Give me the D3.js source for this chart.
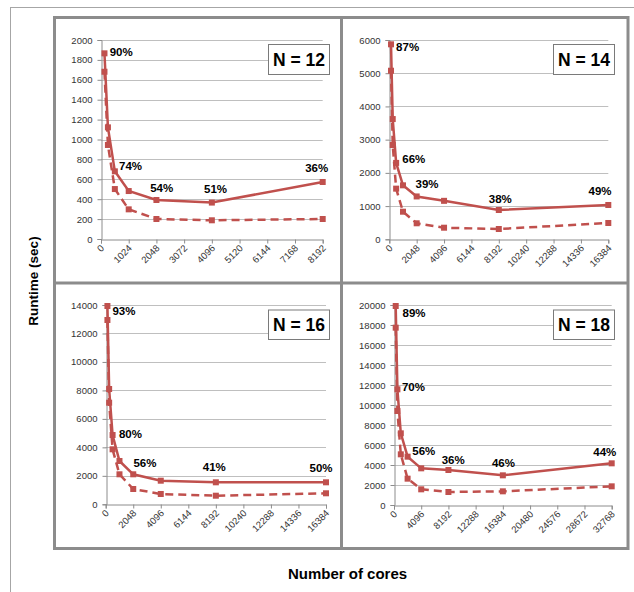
<!DOCTYPE html>
<html>
<head>
<meta charset="utf-8">
<script src="https://cdn.jsdelivr.net/npm/d3@7/dist/d3.min.js"></script>
<style>
  html, body { margin: 0; padding: 0; background: #fff; }
  svg { display: block; }
</style>
</head>
<body>
<svg id="chart" width="634" height="592"></svg>
<script>
// ---------- DATA ----------
const cores12 = [128, 256, 512, 1024, 2048, 4096, 8192];
const solid12 = [1866, 1122, 680, 482, 392, 366, 573];
const dashed12 = [1681, 945, 502, 298, 201, 188, 201];
const labelCores12 = [128, 512, 2048, 4096, 8192];
const labels12 = ["90%", "74%", "54%", "51%", "36%"];
const xTicks12 = [0, 1024, 2048, 3072, 4096, 5120, 6144, 7168, 8192];
const yTicks12 = [0, 200, 400, 600, 800, 1000, 1200, 1400, 1600, 1800, 2000];

const cores14 = [128, 256, 512, 1024, 2048, 4096, 8192, 16384];
const solid14 = [5870, 3620, 2300, 1625, 1290, 1158, 882, 1033];
const dashed14 = [5075, 2839, 1525, 831, 482, 349, 310, 491];
const labelCores14 = [128, 512, 2048, 8192, 16384];
const labels14 = ["87%", "66%", "39%", "38%", "49%"];
const xTicks14 = [0, 2048, 4096, 6144, 8192, 10240, 12288, 14336, 16384];
const yTicks14 = [0, 1000, 2000, 3000, 4000, 5000, 6000];

const cores16 = [128, 256, 512, 1024, 2048, 4096, 8192, 16384];
const solid16 = [13929, 8099, 4868, 3042, 2107, 1658, 1545, 1545];
const dashed16 = [12946, 7137, 3863, 2107, 1075, 724, 604, 773];
const labelCores16 = [128, 512, 2048, 8192, 16384];
const labels16 = ["93%", "80%", "56%", "41%", "50%"];
const xTicks16 = [0, 2048, 4096, 6144, 8192, 10240, 12288, 14336, 16384];
const yTicks16 = [0, 2000, 4000, 6000, 8000, 10000, 12000, 14000];

const cores18 = [256, 512, 1024, 2048, 4096, 8192, 16384, 32768];
const solid18 = [19900, 11567, 7167, 4833, 3667, 3500, 2967, 4167];
const dashed18 = [17733, 9400, 5067, 2633, 1567, 1300, 1367, 1867];
const labelCores18 = [256, 512, 4096, 8192, 16384, 32768];
const labels18 = ["89%", "70%", "56%", "36%", "46%", "44%"];
const xTicks18 = [0, 4096, 8192, 12288, 16384, 20480, 24576, 28672, 32768];
const yTicks18 = [0, 2000, 4000, 6000, 8000, 10000, 12000, 14000, 16000, 18000, 20000];

const panelTitles = ["N = 12", "N = 14", "N = 16", "N = 18"];
const yTitle = "Runtime (sec)";
const xTitle = "Number of cores";

// ---------- LAYOUT (positions / styles) ----------
const RED = "#C0504D";
const layout = [
  { plot: [101, 322.7, 40, 239],   box: [268.5, 44.5, 61, 30],
    offs: [[16.7, -1.6], [15.7, -5.6], [5.3, -11.7], [3.7, -13.7], [-6, -13.7]] },
  { plot: [389.3, 608.3, 40, 239.3], box: [553.5, 44.5, 61, 30],
    offs: [[16.6, 2.4], [17.7, -4], [10.4, -12.4], [1.5, -11], [-8.3, -14.3]] },
  { plot: [105.7, 326, 305, 504.3], box: [268.5, 310, 61, 29.5],
    offs: [[16.5, 4.7], [17.9, -1], [11.7, -11.6], [-1.5, -15.3], [-5, -14.3]] },
  { plot: [394, 611.7, 305, 505],   box: [553.5, 310, 61, 29.5],
    offs: [[18.3, 7], [16, -2], [2.6, -17.3], [4.8, -10], [0.6, -12.6], [-6.9, -11.6]] }
];

const panels = [
  { cores: cores12, solid: solid12, dashed: dashed12, lc: labelCores12, lt: labels12, xt: xTicks12, yt: yTicks12 },
  { cores: cores14, solid: solid14, dashed: dashed14, lc: labelCores14, lt: labels14, xt: xTicks14, yt: yTicks14 },
  { cores: cores16, solid: solid16, dashed: dashed16, lc: labelCores16, lt: labels16, xt: xTicks16, yt: yTicks16 },
  { cores: cores18, solid: solid18, dashed: dashed18, lc: labelCores18, lt: labels18, xt: xTicks18, yt: yTicks18 }
];

const svg = d3.select("#chart");
svg.append("rect").attr("width", 634).attr("height", 592).attr("fill", "#fff");

// outer thin frame
svg.append("rect").attr("x", 10.5).attr("y", 7.5).attr("width", 700).attr("height", 700)
  .attr("fill", "none").attr("stroke", "#a6a6a6").attr("stroke-width", 1);

// axis titles
svg.append("text").attr("transform", "translate(38,281) rotate(-90)")
  .attr("text-anchor", "middle").attr("font-family", "Liberation Sans, Arial, sans-serif")
  .attr("font-weight", "bold").attr("font-size", 13.5).attr("fill", "#000").text(yTitle);
svg.append("text").attr("x", 347.5).attr("y", 578.5)
  .attr("text-anchor", "middle").attr("font-family", "Liberation Sans, Arial, sans-serif")
  .attr("font-weight", "bold").attr("font-size", 15).attr("fill", "#000").text(xTitle);

panels.forEach((p, i) => {
  const L = layout[i];
  const [x0, x1, y0, y1] = L.plot;
  const x = d3.scaleLinear().domain([0, d3.max(p.xt)]).range([x0, x1]);
  const y = d3.scaleLinear().domain([0, d3.max(p.yt)]).range([y1, y0]);
  const g = svg.append("g");

  // gridlines
  g.selectAll("line.grid").data(p.yt.filter(v => v > 0)).join("line")
    .attr("x1", x0).attr("x2", x1)
    .attr("y1", d => Math.round(y(d)) + 0.5).attr("y2", d => Math.round(y(d)) + 0.5)
    .attr("stroke", "#bfbfbf").attr("stroke-width", 1);

  // y axis
  const ya = g.append("g").attr("transform", `translate(${Math.round(x0) + 0.5},0)`)
    .call(d3.axisLeft(y).tickValues(p.yt).tickSize(4).tickPadding(5).tickFormat(d3.format("d")));
  ya.selectAll("path, line").attr("stroke", "#8c8c8c");
  ya.selectAll("text").attr("font-family", "Liberation Sans, Arial, sans-serif")
    .attr("font-size", 9.5).attr("fill", "#333");

  // x axis
  const xa = g.append("g").attr("transform", `translate(0,${Math.round(y1) + 0.5})`)
    .call(d3.axisBottom(x).tickValues(p.xt).tickSize(4).tickFormat(d3.format("d")));
  xa.selectAll("path, line").attr("stroke", "#8c8c8c");
  xa.selectAll("text")
    .attr("font-family", "Liberation Sans, Arial, sans-serif")
    .attr("font-size", 9.5).attr("fill", "#333")
    .attr("text-anchor", "end")
    .attr("y", 0).attr("dy", "0.35em")
    .attr("transform", "translate(1,7) rotate(-45)");

  // lines
  const line = d3.line().x(d => x(d[0])).y(d => y(d[1]));
  const sData = p.cores.map((c, k) => [c, p.solid[k]]);
  const dData = p.cores.map((c, k) => [c, p.dashed[k]]);
  g.append("path").datum(dData).attr("d", line).attr("fill", "none")
    .attr("stroke", RED).attr("stroke-width", 2.5).attr("stroke-dasharray", "8,5");
  g.append("path").datum(sData).attr("d", line).attr("fill", "none")
    .attr("stroke", RED).attr("stroke-width", 2.5);
  const ms = 6;
  g.selectAll("rect.md").data(dData).join("rect")
    .attr("x", d => x(d[0]) - ms / 2).attr("y", d => y(d[1]) - ms / 2)
    .attr("width", ms).attr("height", ms).attr("fill", RED);
  g.selectAll("rect.ms").data(sData).join("rect")
    .attr("x", d => x(d[0]) - ms / 2).attr("y", d => y(d[1]) - ms / 2)
    .attr("width", ms).attr("height", ms).attr("fill", RED);

  // percentage labels
  p.lc.forEach((c, k) => {
    const idx = p.cores.indexOf(c);
    const px = x(c), py = y(p.solid[idx]);
    g.append("text").attr("x", px + L.offs[k][0]).attr("y", py + L.offs[k][1])
      .attr("dy", "0.35em").attr("text-anchor", "middle")
      .attr("font-family", "Liberation Sans, Arial, sans-serif")
      .attr("font-weight", "bold").attr("font-size", 11.5).attr("fill", "#000")
      .text(p.lt[k]);
  });

  // N box
  const [bx, by, bw, bh] = L.box;
  g.append("rect").attr("x", bx).attr("y", by).attr("width", bw).attr("height", bh)
    .attr("fill", "#fff").attr("stroke", "#7a7a7a").attr("stroke-width", 1);
  g.append("text").attr("x", bx + bw / 2).attr("y", by + bh / 2).attr("dy", "0.36em")
    .attr("text-anchor", "middle").attr("font-family", "Liberation Sans, Arial, sans-serif")
    .attr("font-weight", "bold").attr("font-size", 17.5).attr("fill", "#000")
    .text(panelTitles[i]);
});

// panel frames
const fr = svg.append("g").attr("fill", "none").attr("stroke", "#8c8c8c").attr("stroke-width", 3);
fr.append("rect").attr("x", 54.5).attr("y", 17.5).attr("width", 573.5).attr("height", 531);
fr.append("line").attr("x1", 341.5).attr("x2", 341.5).attr("y1", 17.5).attr("y2", 548.5);
fr.append("line").attr("x1", 54.5).attr("x2", 628).attr("y1", 283).attr("y2", 283);
</script>
</body>
</html>
